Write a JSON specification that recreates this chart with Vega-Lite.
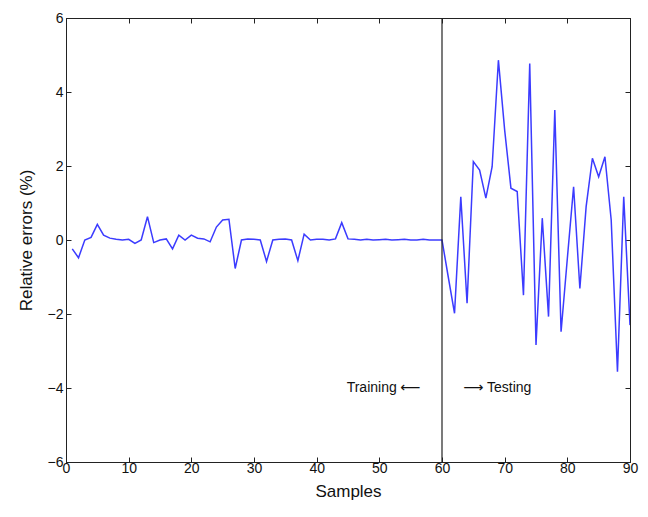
{
  "$schema": "https://vega.github.io/schema/vega-lite/v6.json",
  "width": 564,
  "height": 444,
  "autosize": {"type": "none"},
  "padding": {"left": 66, "top": 18, "right": 18, "bottom": 55},
  "background": "white",
  "config": {
    "view": {"stroke": "#222222", "strokeWidth": 1},
    "font": "Liberation Sans",
    "axis": {
      "grid": false,
      "domainColor": "#222222",
      "tickColor": "#222222",
      "tickSize": -5,
      "labelFont": "Liberation Sans",
      "labelFontSize": 14,
      "labelColor": "#111111",
      "titleFont": "Liberation Sans",
      "titleFontSize": 17,
      "titleFontWeight": "normal",
      "titleColor": "#111111"
    }
  },
  "layer": [
    {
      "data": {
        "values": [
          {"sample": 1, "error": -0.24}, {"sample": 2, "error": -0.48}, {"sample": 3, "error": 0.0},
          {"sample": 4, "error": 0.07}, {"sample": 5, "error": 0.42}, {"sample": 6, "error": 0.13},
          {"sample": 7, "error": 0.05}, {"sample": 8, "error": 0.02}, {"sample": 9, "error": 0.0},
          {"sample": 10, "error": 0.02}, {"sample": 11, "error": -0.09}, {"sample": 12, "error": 0.0},
          {"sample": 13, "error": 0.63}, {"sample": 14, "error": -0.07}, {"sample": 15, "error": 0.0},
          {"sample": 16, "error": 0.03}, {"sample": 17, "error": -0.24}, {"sample": 18, "error": 0.13},
          {"sample": 19, "error": 0.0}, {"sample": 20, "error": 0.13}, {"sample": 21, "error": 0.05},
          {"sample": 22, "error": 0.03}, {"sample": 23, "error": -0.05}, {"sample": 24, "error": 0.35},
          {"sample": 25, "error": 0.54}, {"sample": 26, "error": 0.56}, {"sample": 27, "error": -0.77},
          {"sample": 28, "error": 0.0}, {"sample": 29, "error": 0.03}, {"sample": 30, "error": 0.02},
          {"sample": 31, "error": 0.0}, {"sample": 32, "error": -0.58}, {"sample": 33, "error": 0.0},
          {"sample": 34, "error": 0.02}, {"sample": 35, "error": 0.03}, {"sample": 36, "error": 0.0},
          {"sample": 37, "error": -0.56}, {"sample": 38, "error": 0.16}, {"sample": 39, "error": 0.0},
          {"sample": 40, "error": 0.02}, {"sample": 41, "error": 0.02}, {"sample": 42, "error": 0.0},
          {"sample": 43, "error": 0.03}, {"sample": 44, "error": 0.47}, {"sample": 45, "error": 0.03},
          {"sample": 46, "error": 0.02}, {"sample": 47, "error": 0.0}, {"sample": 48, "error": 0.02},
          {"sample": 49, "error": 0.0}, {"sample": 50, "error": 0.01}, {"sample": 51, "error": 0.02},
          {"sample": 52, "error": 0.0}, {"sample": 53, "error": 0.01}, {"sample": 54, "error": 0.02},
          {"sample": 55, "error": 0.0}, {"sample": 56, "error": 0.0}, {"sample": 57, "error": 0.02},
          {"sample": 58, "error": 0.0}, {"sample": 59, "error": 0.0}, {"sample": 60, "error": 0.0},
          {"sample": 61, "error": -1.0}, {"sample": 62, "error": -1.98}, {"sample": 63, "error": 1.17},
          {"sample": 64, "error": -1.71}, {"sample": 65, "error": 2.12}, {"sample": 66, "error": 1.89},
          {"sample": 67, "error": 1.13}, {"sample": 68, "error": 1.98}, {"sample": 69, "error": 4.86},
          {"sample": 70, "error": 2.97}, {"sample": 71, "error": 1.4}, {"sample": 72, "error": 1.31},
          {"sample": 73, "error": -1.49}, {"sample": 74, "error": 4.77}, {"sample": 75, "error": -2.84},
          {"sample": 76, "error": 0.59}, {"sample": 77, "error": -2.07}, {"sample": 78, "error": 3.51},
          {"sample": 79, "error": -2.48}, {"sample": 80, "error": -0.5}, {"sample": 81, "error": 1.44},
          {"sample": 82, "error": -1.31}, {"sample": 83, "error": 0.9}, {"sample": 84, "error": 2.21},
          {"sample": 85, "error": 1.71}, {"sample": 86, "error": 2.25}, {"sample": 87, "error": 0.54},
          {"sample": 88, "error": -3.56}, {"sample": 89, "error": 1.17}, {"sample": 90, "error": -2.3}
        ]
      },
      "mark": {"type": "line", "color": "#3b3bff", "strokeWidth": 1.5, "clip": true},
      "encoding": {
        "x": {
          "field": "sample", "type": "quantitative",
          "scale": {"domain": [0, 90], "nice": false},
          "axis": {"title": "Samples", "values": [0,10,20,30,40,50,60,70,80,90], "labelPadding": 4, "titlePadding": 8, "labelFlush": false}
        },
        "y": {
          "field": "error", "type": "quantitative",
          "scale": {"domain": [-6, 6], "nice": false},
          "axis": {"title": "Relative errors (%)", "values": [-6,-4,-2,0,2,4,6], "labelPadding": 8, "titlePadding": 12}
        }
      }
    },
    {
      "data": {"values": [{"k": 1}]},
      "mark": {"type": "rule", "opacity": 0},
      "encoding": {
        "x": {"datum": 0, "scale": {"domain": [0, 90], "nice": false}, "axis": {"orient": "top", "title": null, "labels": false, "values": [0,10,20,30,40,50,60,70,80,90]}},
        "y": {"datum": 0, "scale": {"domain": [-6, 6], "nice": false}, "axis": {"orient": "right", "title": null, "labels": false, "values": [-6,-4,-2,0,2,4,6]}}
      }
    },
    {
      "data": {"values": [{"k": 1}]},
      "mark": {"type": "rule", "color": "#222222", "strokeWidth": 1.2},
      "encoding": {"x": {"datum": 60, "axis": null}}
    },
    {
      "data": {"values": [{"k": 1}]},
      "mark": {"type": "text", "align": "right", "baseline": "middle", "fontSize": 14, "font": "Liberation Sans, DejaVu Sans", "color": "#111111"},
      "encoding": {"x": {"datum": 56.6, "axis": null}, "y": {"datum": -4.0, "axis": null}, "text": {"value": "Training ⟵"}}
    },
    {
      "data": {"values": [{"k": 1}]},
      "mark": {"type": "text", "align": "left", "baseline": "middle", "fontSize": 14, "font": "Liberation Sans, DejaVu Sans", "color": "#111111"},
      "encoding": {"x": {"datum": 63.4, "axis": null}, "y": {"datum": -4.0, "axis": null}, "text": {"value": "⟶ Testing"}}
    }
  ],
  "resolve": {"axis": {"x": "independent", "y": "independent"}}
}
